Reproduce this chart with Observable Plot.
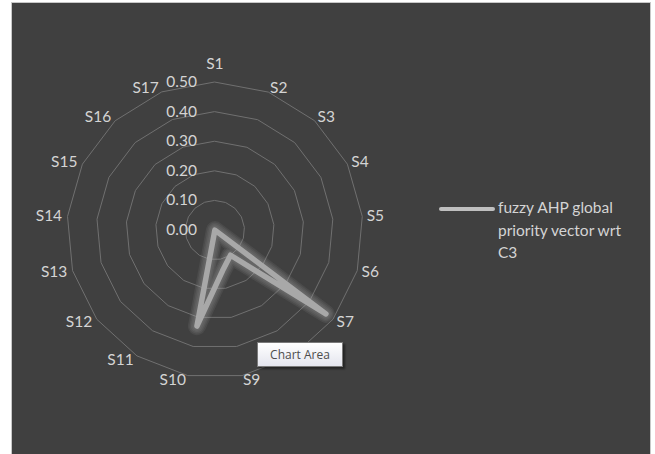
<!DOCTYPE html>
<html>
<head>
<meta charset="utf-8">
<script src="https://cdn.jsdelivr.net/npm/d3@7"></script>
<script src="https://cdn.jsdelivr.net/npm/@observablehq/plot@0.6"></script>
<style>
  html, body { margin: 0; padding: 0; background: #ffffff; width: 655px; height: 454px; overflow: hidden; }
  #frame { position: absolute; left: 11px; top: 2px; width: 638px; height: 451px; background: #404040; border: 1px solid #c8c8c8; border-bottom: none; overflow: hidden; }
  #chart { position: absolute; left: 0; top: 0; }
  #legend { position: absolute; left: 427px; top: 193px; font-family: Lato, "Open Sans", sans-serif; font-size: 15.5px; color: #d4d4d4; line-height: 22.5px; }
  #legend .swatch { position: absolute; left: 0; top: 11px; width: 56px; height: 4px; border-radius: 2px; background: #bfbfbf; }
  #legend .label { position: absolute; left: 59px; top: 0; width: 142px; }
  #tip { position: absolute; left: 245px; top: 339px; width: 84px; height: 23px; border: 1px solid #7a7a7a; background: linear-gradient(#ffffff, #e4e5ee); box-shadow: 2px 2px 2px rgba(0,0,0,0.45); font-family: "Open Sans", sans-serif; font-size: 12px; color: #4d4d4d; text-align: center; line-height: 23px; }
</style>
</head>
<body>
<div id="frame">
  <div id="chart"></div>
  <div id="legend"><div class="swatch"></div><div class="label"></div></div>
  <div id="tip">Chart Area</div>
</div>
<script>
// ---- data ----
const categories = ["S1","S2","S3","S4","S5","S6","S7","S8","S9","S10","S11","S12","S13","S14","S15","S16","S17"];
const values = [0, 0, 0, 0, 0, 0, 0.47, 0.10, 0.14, 0.33, 0, 0, 0, 0, 0, 0, 0];
const ringTicks = [0, 0.1, 0.2, 0.3, 0.4, 0.5];
const tickLabels = ["0.00", "0.10", "0.20", "0.30", "0.40", "0.50"];
const seriesName = "fuzzy AHP global priority vector wrt C3";

// ---- layout ----
const W = 638, H = 451;
const cx = 202.4, cy = 226.6, pxPerUnit = 296;
const labelRadius = 0.515; // in value units, where labels are anchored

const n = categories.length;
const angle = i => (2 * Math.PI * i) / n;

const rings = ringTicks.slice(1).flatMap(t =>
  categories.map((c, i) => ({ring: t, x: Math.sin(angle(i)) * t, y: Math.cos(angle(i)) * t}))
);
const series = categories.map((c, i) => ({cat: c, x: Math.sin(angle(i)) * values[i], y: Math.cos(angle(i)) * values[i]}));
const labels = categories.map((c, i) => ({
  cat: c, s: Math.sin(angle(i)),
  x: Math.sin(angle(i)) * labelRadius, y: Math.cos(angle(i)) * labelRadius
}));
const ticks = ringTicks.map((t, i) => ({v: t, label: tickLabels[i]}));

const textColor = "#d4d4d4";
const font = "Lato, 'Open Sans', sans-serif";

// stacked translucent strokes give a soft halo around the series line
const glowLayers = [18, 15, 12, 9].map(w =>
  Plot.line(series, {x: "x", y: "y", curve: "linear-closed", stroke: "#b8b8b8", strokeWidth: w, strokeOpacity: 0.09, strokeLinejoin: "round", strokeLinecap: "round"})
);

const plot = Plot.plot({
  width: W, height: H,
  margin: 0,
  style: {background: "transparent", fontFamily: font, overflow: "visible"},
  x: {domain: [-cx / pxPerUnit, (W - cx) / pxPerUnit], range: [0, W], axis: null},
  y: {domain: [(cy - H) / pxPerUnit, cy / pxPerUnit], range: [H, 0], axis: null},
  marks: [
    Plot.line(rings, {x: "x", y: "y", z: "ring", curve: "linear-closed", stroke: "#707070", strokeWidth: 1}),
    ...glowLayers,
    Plot.line(series, {x: "x", y: "y", curve: "linear-closed", stroke: "#a8a8a8", strokeWidth: 5.5, strokeLinejoin: "round", strokeLinecap: "round"}),
    Plot.text(ticks, {x: 0, y: "v", text: "label", textAnchor: "end", dx: -18, fill: textColor, fontSize: 15.5}),
    Plot.text(labels.filter(d => d.s > 0.01), {x: "x", y: "y", text: "cat", textAnchor: "start", dx: 0, fill: textColor, fontSize: 15.5}),
    Plot.text(labels.filter(d => d.s < -0.01), {x: "x", y: "y", text: "cat", textAnchor: "end", dx: -1, fill: textColor, fontSize: 15.5}),
    Plot.text(labels.filter(d => Math.abs(d.s) <= 0.01), {x: "x", y: "y", text: "cat", textAnchor: "middle", dy: -14, fill: textColor, fontSize: 15.5})
  ]
});
document.getElementById("chart").appendChild(plot);
document.querySelector("#legend .label").textContent = seriesName;
</script>
</body>
</html>
